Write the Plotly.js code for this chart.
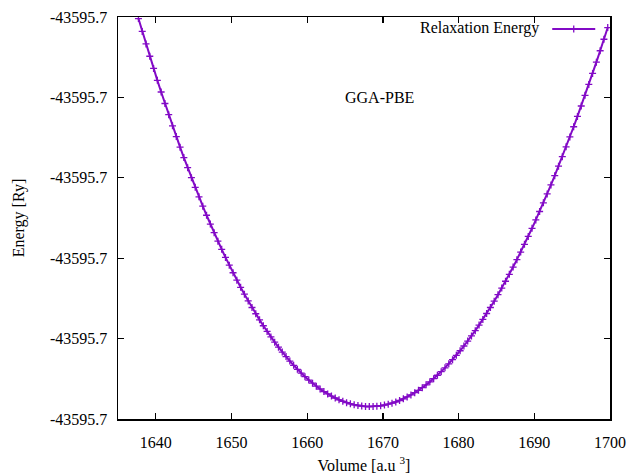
<!DOCTYPE html>
<html>
<head>
<meta charset="utf-8">
<script src="https://cdn.plot.ly/plotly-3.0.1.min.js"></script>
<style>html,body{margin:0;padding:0;background:#fff}#chart{width:627px;height:476px}</style>
</head>
<body>
<div id="chart"></div>
<script>
// Volume [a.u^3]
const volume = [
1637.7,1638.2,1638.7,1639.2,1639.7,1640.2,1640.7,1641.2,1641.7,1642.2,
1642.7,1643.2,1643.7,1644.2,1644.7,1645.2,1645.7,1646.2,1646.7,1647.2,
1647.7,1648.2,1648.7,1649.2,1649.7,1650.2,1650.7,1651.2,1651.7,1652.2,
1652.7,1653.2,1653.7,1654.2,1654.7,1655.2,1655.7,1656.2,1656.7,1657.2,
1657.7,1658.2,1658.7,1659.2,1659.7,1660.2,1660.7,1661.2,1661.7,1662.2,
1662.7,1663.2,1663.7,1664.2,1664.7,1665.2,1665.7,1666.2,1666.7,1667.2,
1667.7,1668.2,1668.7,1669.2,1669.7,1670.2,1670.7,1671.2,1671.7,1672.2,
1672.7,1673.2,1673.7,1674.2,1674.7,1675.2,1675.7,1676.2,1676.7,1677.2,
1677.7,1678.2,1678.7,1679.2,1679.7,1680.2,1680.7,1681.2,1681.7,1682.2,
1682.7,1683.2,1683.7,1684.2,1684.7,1685.2,1685.7,1686.2,1686.7,1687.2,
1687.7,1688.2,1688.7,1689.2,1689.7,1690.2,1690.7,1691.2,1691.7,1692.2,
1692.7,1693.2,1693.7,1694.2,1694.7,1695.2,1695.7,1696.2,1696.7,1697.2,
1697.7,1698.2,1698.7,1699.2,1699.7
];
// Energy [Ry]
const energy = [
-43595.699019,-43595.699179,-43595.699335,-43595.699488,-43595.699639,-43595.699788,-43595.699933,-43595.700076,-43595.700215,-43595.700353,
-43595.700487,-43595.700619,-43595.700748,-43595.700874,-43595.700998,-43595.701119,-43595.701237,-43595.701353,-43595.701466,-43595.701576,
-43595.701683,-43595.701788,-43595.701890,-43595.701990,-43595.702087,-43595.702181,-43595.702273,-43595.702362,-43595.702448,-43595.702532,
-43595.702613,-43595.702691,-43595.702767,-43595.702840,-43595.702911,-43595.702979,-43595.703044,-43595.703107,-43595.703167,-43595.703224,
-43595.703279,-43595.703332,-43595.703382,-43595.703429,-43595.703474,-43595.703516,-43595.703555,-43595.703592,-43595.703627,-43595.703659,
-43595.703688,-43595.703715,-43595.703739,-43595.703761,-43595.703780,-43595.703797,-43595.703811,-43595.703823,-43595.703832,-43595.703839,
-43595.703843,-43595.703845,-43595.703844,-43595.703841,-43595.703835,-43595.703827,-43595.703816,-43595.703803,-43595.703788,-43595.703770,
-43595.703749,-43595.703726,-43595.703701,-43595.703673,-43595.703643,-43595.703610,-43595.703575,-43595.703538,-43595.703498,-43595.703456,
-43595.703411,-43595.703364,-43595.703314,-43595.703262,-43595.703208,-43595.703151,-43595.703092,-43595.703031,-43595.702967,-43595.702901,
-43595.702832,-43595.702761,-43595.702688,-43595.702613,-43595.702535,-43595.702454,-43595.702372,-43595.702287,-43595.702200,-43595.702110,
-43595.702018,-43595.701924,-43595.701828,-43595.701729,-43595.701628,-43595.701524,-43595.701419,-43595.701311,-43595.701201,-43595.701088,
-43595.700973,-43595.700856,-43595.700737,-43595.700615,-43595.700492,-43595.700365,-43595.700237,-43595.700107,-43595.699974,-43595.699839,
-43595.699702,-43595.699562,-43595.699420,-43595.699277,-43595.699131
];
const yTickVals = [-43595.704,-43595.703,-43595.702,-43595.701,-43595.700,-43595.699];
const yTickText = ["-43595.7","-43595.7","-43595.7","-43595.7","-43595.7","-43595.7"];
const xTickVals = [1640,1650,1660,1670,1680,1690,1700];
const xTickText = ["1640","1650","1660","1670","1680","1690","1700"];
const seriesName = "Relaxation Energy";

const purple = '#820ac6';
const font = {family: '"Liberation Serif", "Times New Roman", serif', size: 16, color: '#000'};

const trace = {
  x: volume, y: energy, type: 'scatter', mode: 'lines+markers', name: ' ',
  line: {color: purple, width: 2},
  marker: {symbol: 'cross-thin', size: 5, color: purple, line: {color: purple, width: 1.3}},
  cliponaxis: true
};

const axisCommon = {
  showline: true, linecolor: '#000', linewidth: 1.5, mirror: 'ticks',
  ticks: 'inside', ticklen: 6, tickwidth: 1.2, tickcolor: '#000',
  showgrid: false, zeroline: false, tickfont: font
};

const layout = {
  width: 627, height: 476,
  margin: {l: 118, r: 17, t: 14, b: 57},
  paper_bgcolor: '#fff', plot_bgcolor: '#fff',
  font: font,
  showlegend: true,
  legend: {
    x: 1.0, y: 1.012, xanchor: 'right', yanchor: 'top',
    bgcolor: 'rgba(0,0,0,0)', font: font, itemwidth: 43,
    title: {text: seriesName, side: 'left', font: font}
  },
  xaxis: Object.assign({}, axisCommon, {
    range: [1635, 1700], tickmode: 'array', tickvals: xTickVals, ticktext: xTickText,
    ticklabelstandoff: 8,
    title: {text: 'Volume [a.u <sup>3</sup>]', font: font, standoff: 10}
  }),
  yaxis: Object.assign({}, axisCommon, {
    range: [-43595.704, -43595.699], tickmode: 'array', tickvals: yTickVals, ticktext: yTickText,
    ticklabelstandoff: 6,
    title: {text: 'Energy [Ry]', font: font, standoff: 21}
  }),
  annotations: [{
    text: 'GGA-PBE', xref: 'paper', yref: 'paper', x: 0.5325, y: 0.8,
    xanchor: 'center', yanchor: 'middle', showarrow: false, font: font
  }]
};

Plotly.newPlot('chart', [trace], layout, {displayModeBar: false, staticPlot: true});
</script>
</body>
</html>
